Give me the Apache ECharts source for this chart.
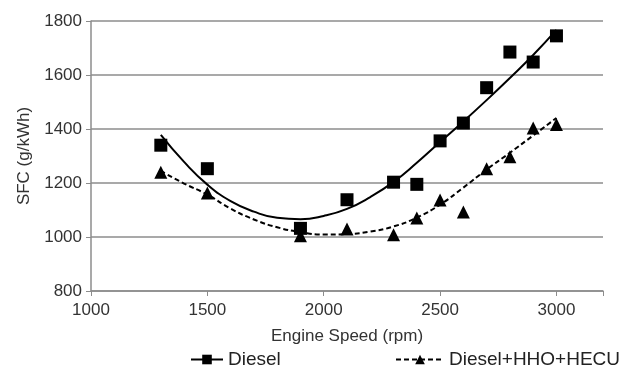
<!DOCTYPE html>
<html><head><meta charset="utf-8">
<script src="https://cdn.jsdelivr.net/npm/echarts@6/dist/echarts.min.js"></script>
<style>html,body{margin:0;padding:0;background:#fff}#c{width:626px;height:368px}</style>
</head><body><div id="c"></div>
<script>
const speedsDiesel = [1300,1500,1900,2100,2300,2400,2500,2600,2700,2800,2900,3000];
const sfcDiesel    = [1340,1253,1032,1138,1203,1195,1356,1422,1553,1685,1648,1745];
const speedsHHO    = [1300,1500,1900,2100,2300,2400,2500,2600,2700,2800,2900,3000];
const sfcHHO       = [1240,1163,1005,1030,1008,1070,1137,1093,1253,1297,1404,1417];
// trend curves
const trendX       = [1300,1400,1500,1600,1700,1800,1900,2000,2100,2200,2300,2400,2500,2600,2700,2800,2900,3000];
const trendDiesel  = [1378,1278,1194,1133,1094,1071,1066,1078,1104,1148,1204,1275,1352,1428,1507,1589,1674,1767];
const trendHHO     = [1245,1198,1157,1105,1065,1036,1018,1009,1011,1020,1039,1072,1120,1183,1250,1312,1376,1441];
const names = ['Diesel','Diesel+HHO+HECU'];

const zip = (a,b)=>a.map((v,i)=>[v,b[i]]);
const font = 'Liberation Sans, Arial, sans-serif';
const chart = echarts.init(document.getElementById('c'));
chart.setOption({
  animation:false,
  grid:{left:91,right:23,top:21,bottom:77},
  xAxis:{type:'value',min:1000,max:3200,interval:500,
    name:'Engine Speed (rpm)',nameLocation:'middle',nameGap:37,
    nameTextStyle:{fontFamily:font,fontSize:17,color:'#333'},
    axisLine:{lineStyle:{color:'#8c8c8c',width:1.5}},
    axisTick:{show:true,length:5,lineStyle:{color:'#8c8c8c'}},
    axisLabel:{fontFamily:font,fontSize:17,color:'#333',margin:11,
      formatter:v=>(v%500===0?String(v):'')},
    splitLine:{show:false}},
  yAxis:{type:'value',min:800,max:1800,interval:200,
    name:'SFC (g/kWh)',nameLocation:'middle',nameGap:57,nameRotate:90,
    nameTextStyle:{fontFamily:font,fontSize:17,color:'#333'},
    axisLine:{show:true,lineStyle:{color:'#8c8c8c',width:1.5}},
    axisTick:{show:true,length:5,lineStyle:{color:'#8c8c8c'}},
    axisLabel:{fontFamily:font,fontSize:17,color:'#333',margin:9,formatter:v=>String(v)},
    splitLine:{lineStyle:{color:'#8c8c8c',width:1.5}}},
  legend:[
    {data:[names[0]],left:185,top:345,itemWidth:32,itemHeight:12,itemGap:6,
     textStyle:{fontFamily:font,fontSize:19,color:'#222'}},
    {data:[names[1]],left:390,top:345,itemWidth:48,itemHeight:12,
     textStyle:{fontFamily:font,fontSize:19,color:'#222'}}],
  series:[
    {name:names[0],type:'line',smooth:0.5,symbol:'rect',symbolSize:11,showSymbol:false,
     itemStyle:{color:'#000'},lineStyle:{color:'#000',width:2},
     data:zip(trendX,trendDiesel)},
    {name:names[1],type:'line',smooth:0.5,symbol:'triangle',symbolSize:12,showSymbol:false,
     itemStyle:{color:'#000'},lineStyle:{color:'#000',width:2,type:[5,3]},
     data:zip(trendX,trendHHO)},
    {name:names[0],type:'scatter',symbol:'rect',symbolSize:13,
     itemStyle:{color:'#000',opacity:1},data:zip(speedsDiesel,sfcDiesel)},
    {name:names[1],type:'scatter',symbol:'triangle',symbolSize:13,
     itemStyle:{color:'#000',opacity:1},data:zip(speedsHHO,sfcHHO)}
  ]
});
</script></body></html>
